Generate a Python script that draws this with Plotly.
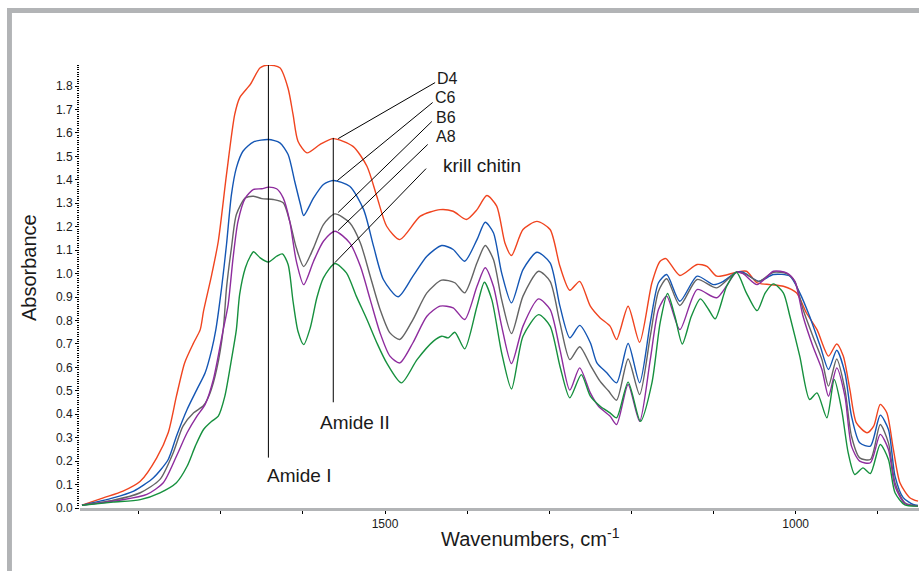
import plotly.graph_objects as go

# ---------------- data ----------------
D4_wn = [1869,1843,1819,1798,1778,1764,1754,1744,1733,1725,1721,1711,1703,1693,1683,1677,1664,1652,1642,1628,
         1618,1612,1606,1595,1579,1563,1539,1522,1510,1498,1482,1457,1433,1417,1401,1388,1376,1364,1354,1346,
         1332,1315,1299,1287,1275,1263,1250,1238,1226,1218,1204,1190,1175,1165,1158,1141,1120,1108,1096,1072,
         1060,1047,1031,1015,999,987,974,960,950,942,934,926,913,905,897,889,881,873,861,851]
D4_abs = [0.012,0.043,0.072,0.114,0.214,0.321,0.477,0.619,0.705,0.761,0.84,0.996,1.138,1.423,1.679,1.750,1.807,1.878,1.89,1.878,
          1.79,1.679,1.565,1.515,1.551,1.576,1.543,1.458,1.330,1.202,1.145,1.245,1.273,1.266,1.231,1.273,1.333,1.288,1.131,1.077,
          1.188,1.223,1.188,1.031,0.929,0.967,0.861,0.811,0.776,0.719,0.861,0.707,0.961,1.053,1.064,0.992,1.039,1.031,0.989,1.006,
          1.010,0.961,0.953,0.946,0.918,0.833,0.761,0.648,0.700,0.648,0.506,0.363,0.321,0.349,0.442,0.406,0.250,0.108,0.044,0.029]

C6_wn = [1869,1831,1806,1782,1764,1754,1741,1729,1719,1711,1706,1699,1693,1687,1681,1673,1660,1642,1628,1618,
         1610,1603,1599,1587,1575,1563,1543,1526,1514,1502,1484,1466,1449,1431,1417,1403,1388,1378,1368,1358,
         1346,1332,1315,1299,1287,1275,1263,1250,1242,1230,1218,1204,1190,1177,1167,1157,1141,1120,1100,1088,
         1072,1064,1045,1027,1007,995,983,970,960,950,940,932,922,909,897,887,879,869,857,851]
C6_abs = [0.012,0.043,0.072,0.129,0.207,0.306,0.420,0.506,0.577,0.676,0.761,0.939,1.124,1.337,1.451,1.522,1.562,1.572,1.558,1.508,
          1.394,1.295,1.248,1.323,1.380,1.397,1.373,1.273,1.117,0.975,0.901,0.989,1.074,1.120,1.103,1.053,1.145,1.219,1.174,1.003,
          0.875,1.017,1.091,1.046,0.861,0.726,0.779,0.705,0.619,0.577,0.534,0.702,0.534,0.790,0.961,0.996,0.882,0.989,0.953,0.967,
          1.006,1.006,0.967,0.996,0.989,0.918,0.818,0.690,0.591,0.673,0.577,0.392,0.278,0.264,0.396,0.335,0.136,0.044,0.015,0.011]

B6_wn = [1869,1831,1798,1774,1758,1746,1733,1721,1713,1705,1697,1693,1687,1681,1670,1660,1650,1636,1624,1616,
         1608,1599,1587,1575,1561,1543,1530,1518,1506,1494,1482,1466,1449,1431,1415,1403,1388,1378,1368,1358,
         1346,1332,1313,1299,1287,1275,1263,1250,1238,1228,1218,1204,1190,1177,1167,1157,1141,1120,1096,1072,
         1060,1045,1027,1011,1001,991,979,968,960,950,940,932,922,909,897,887,879,867,851]
B6_abs = [0.012,0.033,0.065,0.122,0.235,0.349,0.406,0.437,0.491,0.591,0.761,0.939,1.110,1.252,1.323,1.330,1.320,1.316,1.302,1.223,
          1.110,1.030,1.110,1.209,1.255,1.217,1.131,0.989,0.847,0.747,0.719,0.804,0.918,0.972,0.961,0.918,1.046,1.120,1.060,0.889,
          0.744,0.904,1.010,0.967,0.790,0.633,0.688,0.61,0.54,0.50,0.46,0.636,0.484,0.733,0.925,0.978,0.864,0.975,0.939,1.006,
          0.996,0.967,1.006,1.000,0.967,0.847,0.733,0.633,0.520,0.636,0.506,0.306,0.214,0.207,0.356,0.278,0.108,0.022,0.008]

A8_wn = [1869,1823,1790,1770,1754,1741,1729,1719,1709,1697,1691,1685,1679,1670,1660,1650,1642,1632,1624,1616,
         1608,1599,1587,1575,1561,1543,1530,1518,1506,1494,1482,1466,1449,1433,1417,1403,1388,1378,1368,1358,
         1346,1332,1313,1299,1287,1275,1263,1250,1240,1226,1218,1204,1190,1177,1167,1157,1141,1120,1096,1072,
         1064,1047,1027,1011,1001,991,979,968,960,950,940,932,922,909,897,887,879,867,851]
A8_abs = [0.012,0.033,0.058,0.108,0.221,0.321,0.392,0.442,0.548,0.761,0.868,1.067,1.223,1.323,1.359,1.362,1.369,1.362,1.323,1.223,
          1.053,0.953,1.053,1.138,1.181,1.131,1.031,0.889,0.747,0.648,0.619,0.705,0.818,0.861,0.854,0.804,0.946,1.025,0.946,0.776,
          0.616,0.776,0.892,0.847,0.676,0.503,0.598,0.491,0.434,0.392,0.356,0.527,0.370,0.633,0.847,0.904,0.761,0.932,0.897,1.006,
          1.000,0.953,1.010,1.003,0.967,0.818,0.690,0.591,0.477,0.598,0.477,0.264,0.200,0.193,0.314,0.250,0.093,0.019,0.008]

KC_wn = [1869,1831,1798,1774,1754,1741,1731,1721,1711,1703,1695,1687,1681,1677,1670,1664,1660,1652,1642,1632,
         1625,1618,1612,1606,1599,1591,1583,1575,1561,1547,1535,1522,1510,1498,1480,1461,1441,1431,1423,1415,
         1403,1388,1379,1370,1358,1346,1332,1313,1299,1287,1275,1261,1250,1238,1226,1218,1204,1189,1175,1165,
         1156,1147,1138,1127,1116,1106,1098,1084,1072,1060,1047,1037,1027,1015,1007,995,983,974,962,953,
         944,936,928,918,909,897,887,879,867,851]
KC_abs = [0.012,0.025,0.036,0.065,0.108,0.178,0.264,0.335,0.370,0.392,0.477,0.633,0.761,0.911,1.025,1.074,1.093,1.067,1.049,1.074,
          1.084,1.039,0.882,0.754,0.697,0.769,0.897,0.982,1.043,1.003,0.904,0.804,0.705,0.619,0.534,0.633,0.712,0.733,0.726,0.750,
          0.679,0.861,0.963,0.889,0.662,0.508,0.733,0.825,0.776,0.605,0.470,0.569,0.477,0.434,0.406,0.385,0.537,0.370,0.534,0.790,
          0.915,0.818,0.700,0.818,0.892,0.847,0.807,0.946,1.006,0.918,0.842,0.918,0.956,0.918,0.818,0.648,0.463,0.491,0.385,0.548,
          0.420,0.235,0.143,0.171,0.147,0.271,0.207,0.065,0.013,0.008]

series_names = ["D4", "C6", "B6", "A8", "krill chitin"]
series_colors = ["#f0441f", "#1456b4", "#646464", "#8e2c9e", "#16903e"]

x_label_vals = [1500, 1000]
x_label_text = ["1500", "1000"]
y_tick_vals = [round(0.1 * i, 1) for i in range(19)]
y_tick_text = ["%.1f" % v for v in y_tick_vals]

# label annotations: (text, wn, abs, font size)
label_pos = [("D4", 1439, 1.832, 16), ("C6", 1441, 1.750, 16), ("B6", 1440, 1.667, 16),
             ("A8", 1440, 1.586, 16), ("krill chitin", 1432, 1.461, 19)]
# leader lines: (wn_start, abs_start, wn_end, abs_end)
leaders = [(1439, 1.815, 1557, 1.576), (1442, 1.730, 1558, 1.397), (1443, 1.649, 1557, 1.261),
           (1448, 1.551, 1557, 1.184), (1450, 1.448, 1561, 1.047)]
amide_lines = [(1642, 1.895, 0.215), (1563, 1.579, 0.451)]
amide_text = [("Amide I", 1605, 0.139), ("Amide II", 1537, 0.365)]

FONT = "Liberation Sans, Arial, sans-serif"
TXT = "#1a1a1a"

fig = go.Figure()
for name, xs, ys, col in zip(series_names,
                             [D4_wn, C6_wn, B6_wn, A8_wn, KC_wn],
                             [D4_abs, C6_abs, B6_abs, A8_abs, KC_abs],
                             series_colors):
    fig.add_trace(go.Scatter(x=xs, y=ys, mode="lines", name=name,
                             line=dict(color=col, width=1.4, shape="spline", smoothing=0.7),
                             showlegend=False, hoverinfo="skip"))

shapes = []
for (x0, y0, x1, y1) in leaders:
    shapes.append(dict(type="line", xref="x", yref="y", x0=x0, y0=y0, x1=x1, y1=y1,
                       line=dict(color="black", width=1)))
for (xv, ytop, ybot) in amide_lines:
    shapes.append(dict(type="line", xref="x", yref="y", x0=xv, x1=xv, y0=ybot, y1=ytop,
                       line=dict(color="black", width=1)))
# grey frame (top and left bands)
BORDER = "#b2b4b6"
shapes.append(dict(type="rect", xref="paper", yref="paper", x0=-0.087, x1=1.02, y0=1.1174, y1=1.1287,
                   fillcolor=BORDER, line=dict(width=0), layer="above"))
shapes.append(dict(type="rect", xref="paper", yref="paper", x0=-0.087, x1=-0.0811, y0=-0.16, y1=1.1287,
                   fillcolor=BORDER, line=dict(width=0), layer="above"))

annotations = []
for (t, xv, yv, fs) in label_pos:
    annotations.append(dict(text=t, x=xv, y=yv, xref="x", yref="y", xanchor="left", yanchor="middle",
                            showarrow=False, font=dict(family=FONT, size=fs, color=TXT)))
for (t, xv, yv) in amide_text:
    annotations.append(dict(text=t, x=xv, y=yv, xref="x", yref="y", xanchor="center", yanchor="middle",
                            showarrow=False, font=dict(family=FONT, size=19, color=TXT)))
annotations.append(dict(text="Absorbance", x=-0.0608, y=0.544, xref="paper", yref="paper",
                        xanchor="center", yanchor="middle", textangle=-90, showarrow=False,
                        font=dict(family=FONT, size=20, color=TXT)))
annotations.append(dict(text="Wavenumbers, cm<sup>-1</sup>", x=0.5364, y=-0.066, xref="paper", yref="paper",
                        xanchor="center", yanchor="middle", showarrow=False,
                        font=dict(family=FONT, size=20, color=TXT)))

fig.update_layout(
    width=919, height=571,
    margin=dict(l=80, r=0, t=65, b=63),
    paper_bgcolor="white", plot_bgcolor="white",
    shapes=shapes, annotations=annotations,
    font=dict(family=FONT, color=TXT),
)
fig.update_xaxes(range=[1871.4, 849.8], tickvals=x_label_vals, ticktext=x_label_text,
                 showgrid=False, zeroline=False, showline=True, linecolor=BORDER, linewidth=3,
                 ticks="outside", ticklen=3, tickcolor="black", tickwidth=1,
                 tickfont=dict(family=FONT, size=12, color=TXT),
                 minor=dict(tick0=0, dtick=100, ticks="outside", ticklen=3, tickcolor="black",
                            tickwidth=1, showgrid=False))
fig.update_yaxes(range=[0, 1.89], tickvals=y_tick_vals, ticktext=y_tick_text,
                 showgrid=False, zeroline=False, showline=False,
                 ticks="outside", ticklen=4, tickcolor="black", tickwidth=1,
                 tickfont=dict(family=FONT, size=12, color=TXT),
                 minor=dict(dtick=0.01, ticks="outside", ticklen=2, tickcolor="black", tickwidth=1, showgrid=False))

fig.write_html("out.html")
